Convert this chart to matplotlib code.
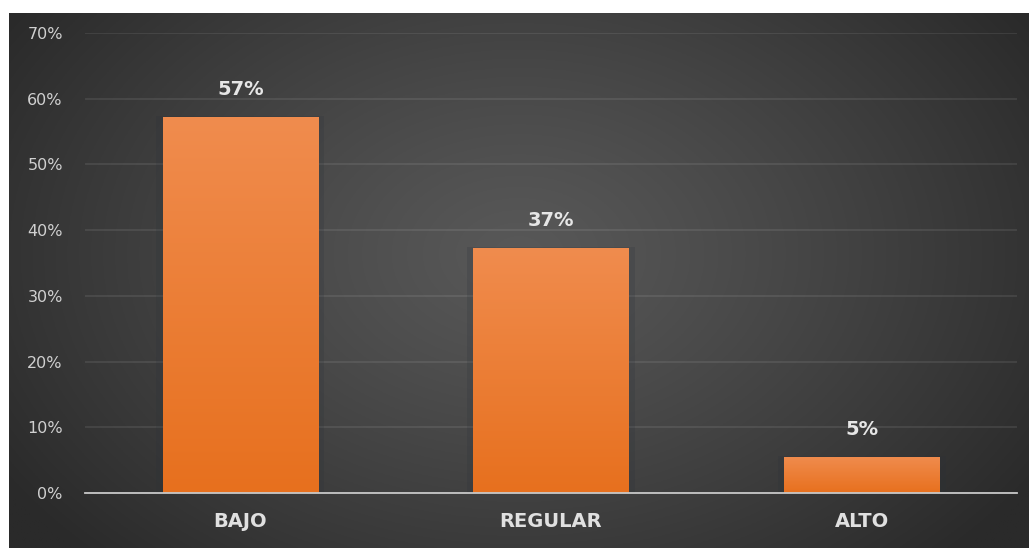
import numpy as np
import matplotlib
matplotlib.use("Agg")
import matplotlib.pyplot as plt
from matplotlib.ticker import FuncFormatter

categories = ["BAJO", "REGULAR", "ALTO"]
values = [57.2, 37.3, 5.5]
value_labels = ["57%", "37%", "5%"]
yticks = [0, 10, 20, 30, 40, 50, 60, 70]

W, H = 1029, 549
fig = plt.figure(figsize=(W / 100, H / 100), dpi=100)
fig.patch.set_facecolor("white")

# dark radial-gradient background (leaves thin white border top/left/bottom)
bg = fig.add_axes([9 / W, 1 / H, 1 - 9 / W, 1 - 14 / H])
bg.set_axis_off()
yy, xx = np.mgrid[0:1:300j, 0:1:600j]
r = np.sqrt(((xx - 0.5) / 0.6) ** 2 + ((yy - 0.55) / 0.8) ** 2)
r = np.clip(r, 0, 1)
c_center = np.array([0x58, 0x58, 0x58]) / 255
c_edge = np.array([0x2a, 0x2a, 0x2a]) / 255
img = c_center[None, None, :] * (1 - r[..., None] ** 1.2) + c_edge[None, None, :] * (r[..., None] ** 1.2)
bg.imshow(img, aspect="auto", extent=[0, 1, 0, 1], origin="lower")
bg.set_xlim(0, 1)
bg.set_ylim(0, 1)

ax = fig.add_axes([85 / W, 1 - 493 / H, (1017 - 85) / W, (493 - 33) / H])
ax.patch.set_alpha(0)
x = np.arange(len(categories))
bars = ax.bar(x, values, width=0.5, color="#ee7d33", edgecolor="none", zorder=3)

# vertical gradient on bars
grad = np.linspace(0, 1, 256)[:, None]
top_c = np.array([0xf0, 0x8c, 0x4e]) / 255
bot_c = np.array([0xe7, 0x70, 0x1e]) / 255
gimg = bot_c[None, None, :] * (1 - grad[..., None]) + top_c[None, None, :] * grad[..., None]
gimg = np.repeat(gimg, 2, axis=1)
for b in bars:
    x0, w, h = b.get_x(), b.get_width(), b.get_height()
    # soft shadow
    ax.bar(b.get_x() + w / 2, h + 0.5, width=w + 0.04, bottom=-0.3, color="#2a3038",
           alpha=0.2, edgecolor="none", zorder=2)
    im = ax.imshow(gimg, extent=[x0, x0 + w, 0, h], origin="lower", aspect="auto", zorder=4)
    im.set_clip_path(b)

for b, lab in zip(bars, value_labels):
    ax.annotate(lab, (b.get_x() + b.get_width() / 2, b.get_height()),
                xytext=(0, 13), textcoords="offset points", ha="center", va="bottom",
                color="#e6e6e6", fontsize=14, fontweight="bold", zorder=5)

ax.set_xlim(-0.5, len(categories) - 0.5)
ax.set_ylim(0, 70)
ax.set_yticks(yticks)
ax.yaxis.set_major_formatter(FuncFormatter(lambda v, p: f"{int(v)}%"))
ax.grid(axis="y", color="white", alpha=0.09, linewidth=1.3, zorder=1)
ax.set_axisbelow(True)
ax.set_xticks(x)
ax.set_xticklabels(categories, fontsize=14, fontweight="bold", color="#e0e0e0")
ax.tick_params(axis="x", length=0, pad=14)
ax.tick_params(axis="y", length=0, pad=16, labelsize=11.5, labelcolor="#d0d0d0")
for s in ["top", "right", "left"]:
    ax.spines[s].set_visible(False)
ax.spines["bottom"].set_color("#c8c8c8")
ax.spines["bottom"].set_linewidth(1.3)
ax.spines["bottom"].set_zorder(6)

fig.savefig("out.png", dpi=100, facecolor=fig.get_facecolor())
